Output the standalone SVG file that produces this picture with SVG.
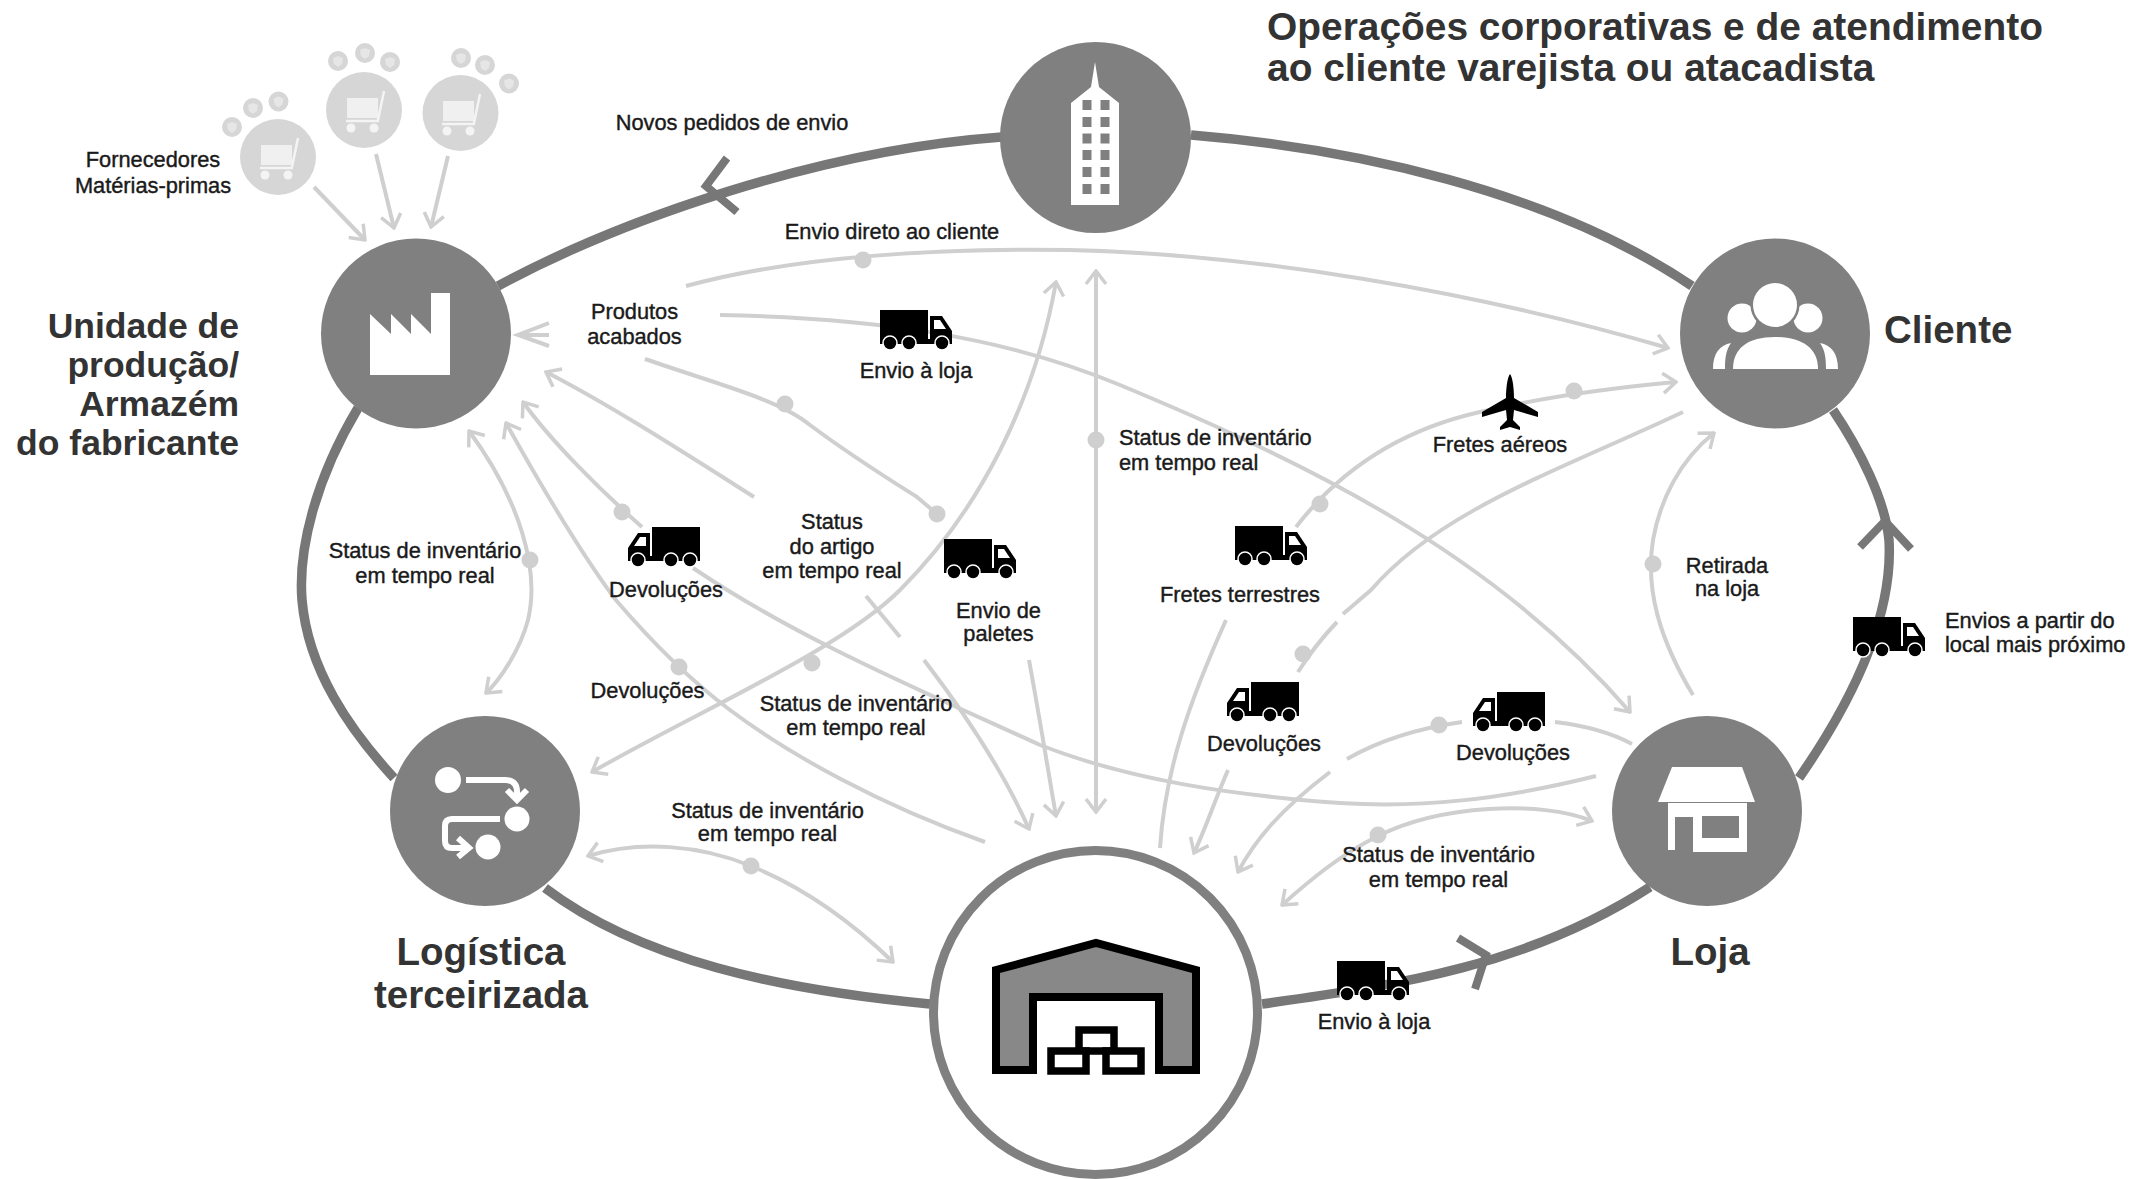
<svg xmlns="http://www.w3.org/2000/svg" width="2131" height="1179" viewBox="0 0 2131 1179">
<style>
text{font-family:"Liberation Sans",Arial,sans-serif}
.s{font-size:21.8px;fill:#1a1a1a;stroke:#1a1a1a;stroke-width:.4;text-anchor:middle}
.l{text-anchor:start}
.b{font-size:38.5px;font-weight:bold;fill:#333}
.h{font-size:38.9px}
.f{font-size:35.5px}
.e{text-anchor:end}
.m{text-anchor:middle}
.n{fill:#808080}
.ring{fill:none;stroke:#777;stroke-width:9.5}
.chev{fill:none;stroke:#777;stroke-width:8}
.t{fill:none;stroke:#cfcfcf;stroke-width:4}
.a{marker-end:url(#arr)}
.d{marker-start:url(#arr);marker-end:url(#arr)}
.dot{fill:#cfcfcf}
.ic{fill:none;stroke:#fff;stroke-width:6}
.sup{fill:#d6d6d6}
</style>
<defs>
<marker id="arr" viewBox="-16 -12 18 24" refX="0" refY="0" markerWidth="18" markerHeight="24" orient="auto-start-reverse" markerUnits="userSpaceOnUse"><path d="M-13,-10 L0,0 L-13,10" fill="none" stroke="#cfcfcf" stroke-width="3.5"/></marker>
<g id="truck"><rect x="0" y="0" width="48" height="31"/><rect x="0" y="29" width="72" height="5"/><path d="M50,6 H62 L72,21 V33 H50Z"/><path d="M54,10 H60 L66,19 H54Z" fill="#fff"/><g stroke="#fff" stroke-width="1.5"><circle cx="10" cy="33" r="7"/><circle cx="29" cy="33" r="7"/><circle cx="62" cy="33" r="7"/></g></g>
<g id="cart"><rect x="-17" y="-12" width="31" height="20" fill="#f0f0f0"/><path d="M14,10 L20,-19 M-18,11 H15" fill="none" stroke="#f4f4f4" stroke-width="2.5"/><circle cx="-13" cy="18" r="4.5" fill="#f4f4f4"/><circle cx="10" cy="18" r="4.5" fill="#f4f4f4"/></g>
<g id="pod"><circle r="10" class="sup"/><path d="M-5,-3 L0,-5 L5,-3 L4,3 L0,6 L-4,3Z" fill="#e6e6e6"/></g>
</defs>

<g id="connectors">
<path class="ring" d="M1002,137 C820,150 620,220 498,286"/>
<path class="chev" d="M727,158 L706,186 L737,212"/>
<path class="ring" d="M1191,135 C1350,148 1550,190 1692,286"/>
<path class="ring" d="M1799,778 C1860,690 1893,610 1889,540 C1885,500 1860,450 1833,410"/>
<path class="chev" d="M1860,547 L1885,521 L1911,549"/>
<path class="ring" d="M358,408 C315,480 298,550 302,600 C308,670 350,730 394,778"/>
<path class="ring" d="M545,888 C640,960 780,990 930,1004"/>
<path class="ring" d="M1262,1004 C1400,985 1530,965 1650,887"/>
<path class="chev" d="M1458,938 L1486,955 L1475,989"/>

<path class="t a" d="M314,187 L365,240"/>
<path class="t a" d="M376,154 L394,228"/>
<path class="t a" d="M448,156 L431,227"/>
<path class="t a" d="M686,286 C800,255 950,248 1070,250 C1250,254 1470,290 1668,348"/>
<path class="t a" d="M720,315 C870,318 1000,335 1120,385 C1300,460 1490,550 1630,712"/>
<path class="t" d="M549,323 L518,335 L549,346 M518,335 H549"/>
<path class="t" d="M645,359 C720,385 780,400 810,425 C850,455 890,480 917,497 L937,514"/>
<path class="t a" d="M754,497 C680,450 610,405 546,372"/>
<path class="t" d="M866,596 L900,637"/>
<path class="t a" d="M924,660 C970,720 1005,775 1029,829"/>
<path class="t a" d="M1029,660 C1040,720 1048,770 1056,816"/>
<path class="t d" d="M592,772 C700,710 840,650 900,590 C980,510 1035,400 1056,282"/>
<path class="t a" d="M642,527 C600,490 550,440 523,402"/>
<path class="t" d="M1596,776 C1500,800 1420,808 1340,803 C1230,795 1130,780 1040,745 C920,690 800,640 693,568"/>
<path class="t a" d="M985,842 C880,805 790,755 730,710 C690,680 650,640 615,599 C575,545 535,475 506,423"/>
<path class="t d" d="M469,431 C520,500 540,570 528,620 C520,650 500,680 486,693"/>
<path class="t d" d="M1096,271 V812"/>
<path class="t a" d="M1296,527 C1340,470 1400,430 1480,412 C1540,398 1610,388 1676,382"/>
<path class="t" d="M1683,412 C1560,470 1440,510 1371,590 L1343,614"/>
<path class="t" d="M1337,622 Q1315,645 1298,672"/>
<path class="t" d="M1226,620 C1190,700 1165,770 1160,848"/>
<path class="t a" d="M1228,770 C1215,800 1205,830 1194,853"/>
<path class="t" d="M1632,744 C1610,732 1580,725 1555,722"/>
<path class="t" d="M1462,722 C1420,728 1380,740 1347,759"/>
<path class="t a" d="M1330,772 C1280,810 1255,840 1238,872"/>
<path class="t d" d="M1592,821 C1540,800 1440,805 1378,836 C1340,855 1310,880 1282,905"/>
<path class="t a" d="M1693,695 C1660,640 1645,590 1653,540 C1660,500 1680,460 1714,433"/>
<path class="t d" d="M588,856 C640,840 700,845 751,866 C810,890 860,930 893,962"/>

<g class="dot">
<circle cx="863" cy="260" r="8.5"/><circle cx="785" cy="404" r="8.5"/><circle cx="937" cy="514" r="8.5"/>
<circle cx="622" cy="512" r="8.5"/><circle cx="530" cy="560" r="8.5"/><circle cx="679" cy="667" r="8.5"/>
<circle cx="812" cy="663" r="8.5"/><circle cx="751" cy="866" r="8.5"/><circle cx="1096" cy="440" r="8.5"/>
<circle cx="1574" cy="391" r="8.5"/><circle cx="1320" cy="504" r="8.5"/><circle cx="1303" cy="654" r="8.5"/>
<circle cx="1439" cy="725" r="8.5"/><circle cx="1378" cy="835" r="8.5"/><circle cx="1653" cy="564" r="8.5"/>
</g>
</g>

<g id="suppliers">
<circle cx="278" cy="157" r="38" class="sup"/><use href="#cart" x="278" y="157"/>
<circle cx="364" cy="110" r="38" class="sup"/><use href="#cart" x="364" y="110"/>
<circle cx="460.5" cy="113" r="38" class="sup"/><use href="#cart" x="460" y="113"/>
<use href="#pod" x="232" y="127"/><use href="#pod" x="253" y="108"/><use href="#pod" x="278.5" y="101.5"/>
<use href="#pod" x="338" y="61"/><use href="#pod" x="365" y="53"/><use href="#pod" x="390" y="62"/>
<use href="#pod" x="461" y="58"/><use href="#pod" x="485" y="65"/><use href="#pod" x="509" y="83.5"/>
<text class="s" x="153" y="167">Fornecedores</text>
<text class="s" x="153" y="193">Matérias-primas</text>
</g>

<g id="node-factory">
<circle cx="416" cy="333.5" r="95" class="n"/>
<path d="M370,375 V314 L391,334 V314 L411,334 V314 L431,334 V293 H450 V375Z" fill="#fff"/>
<g class="b e f"><text x="239" y="338">Unidade de</text><text x="239" y="377">produção/</text><text x="239" y="416">Armazém</text><text x="239" y="455">do fabricante</text></g>
</g>

<g id="node-hq">
<circle cx="1095.5" cy="137.5" r="95.5" class="n"/>
<path d="M1071,205 V103 L1091,87 L1095,62 L1099,87 L1119,103 V205Z" fill="#fff"/>
<g fill="#808080">
<rect x="1082.5" y="100" width="9" height="10"/><rect x="1100.5" y="100" width="9" height="10"/>
<rect x="1082.5" y="117" width="9" height="10"/><rect x="1100.5" y="117" width="9" height="10"/>
<rect x="1082.5" y="133.5" width="9" height="10"/><rect x="1100.5" y="133.5" width="9" height="10"/>
<rect x="1082.5" y="150" width="9" height="10"/><rect x="1100.5" y="150" width="9" height="10"/>
<rect x="1082.5" y="167" width="9" height="10"/><rect x="1100.5" y="167" width="9" height="10"/>
<rect x="1082.5" y="184" width="9" height="10"/><rect x="1100.5" y="184" width="9" height="10"/>
</g>
<text class="b h" x="1267" y="40">Operações corporativas e de atendimento</text>
<text class="b h" x="1267" y="81">ao cliente varejista ou atacadista</text>
</g>

<g id="node-client">
<circle cx="1775" cy="333.5" r="95" class="n"/>
<circle cx="1742" cy="318" r="14.5" fill="#fff"/>
<circle cx="1808" cy="318" r="14.5" fill="#fff"/>
<path d="M1713,369 C1713,353 1720,345 1731,343 C1726,350 1725,358 1725,369Z M1838,369 C1838,353 1831,345 1820,343 C1825,350 1826,358 1826,369Z" fill="#fff"/>
<path d="M1733,369 C1733,348 1748,337 1775,337 C1802,337 1818,348 1818,369Z" fill="#fff"/>
<circle cx="1775" cy="305" r="22" fill="#fff" stroke="#808080" stroke-width="5" paint-order="stroke"/>
<text class="b" x="1884" y="342.5">Cliente</text>
</g>

<g id="node-logistics">
<circle cx="485" cy="811" r="95" class="n"/>
<g fill="#fff"><circle cx="448" cy="780" r="13"/><circle cx="517" cy="819" r="12.5"/><circle cx="488" cy="847" r="12.5"/></g>
<path class="ic" d="M466,780 H505 Q517,780 517,792 V798 M507,790 L517,800 L527,790 M500,819 H452 Q445,819 445,826 V841 Q445,848 452,848 H467 M458,838 L469,848 L458,857"/>
<text class="b m" x="481" y="964.5">Logística</text>
<text class="b m" x="481" y="1008">terceirizada</text>
</g>

<g id="node-store">
<circle cx="1707" cy="811" r="95" class="n"/>
<path d="M1672,767 H1742 L1755,802 H1658Z" fill="#fff"/>
<path d="M1668,803 H1747 V852 H1693 V817 H1675 V850 H1668Z" fill="#fff"/>
<rect x="1702" y="816" width="37" height="22" fill="#808080"/>
<text class="b m" x="1710" y="964.5">Loja</text>
</g>

<g id="node-warehouse">
<circle cx="1095.5" cy="1012.5" r="162" fill="#fff" stroke="#808080" stroke-width="9"/>
<path d="M996,1070 V970 L1096,943 L1196,970 V1070 H1159 V997 H1033 V1070Z" fill="#888" stroke="#000" stroke-width="8"/>
<g fill="#fff" stroke="#000" stroke-width="7.5"><rect x="1079" y="1030" width="35" height="21"/><rect x="1051" y="1051" width="35" height="20"/><rect x="1106" y="1051" width="35" height="20"/></g>
</g>

<g id="vehicles">
<use href="#truck" transform="translate(880,310)"/>
<use href="#truck" transform="translate(700,527) scale(-1,1)"/>
<use href="#truck" transform="translate(944,539)"/>
<use href="#truck" transform="translate(1235,526)"/>
<use href="#truck" transform="translate(1299,682) scale(-1,1)"/>
<use href="#truck" transform="translate(1545,692) scale(-1,1)"/>
<use href="#truck" transform="translate(1853,617)"/>
<use href="#truck" transform="translate(1337,961)"/>
<path d="M1510,374 C1513,378 1514,390 1514,398 L1538,412 V417 L1514,410 L1513,420 L1520,427 V430 L1510,427 L1500,430 V427 L1507,420 L1506,410 L1482,417 V412 L1506,398 C1506,390 1507,378 1510,374Z"/>
</g>

<g id="labels">
<text class="s" x="732" y="130">Novos pedidos de envio</text>
<text class="s" x="892" y="239">Envio direto ao cliente</text>
<text class="s" x="634.5" y="319">Produtos</text><text class="s" x="634.5" y="343.5">acabados</text>
<text class="s" x="916" y="378">Envio à loja</text>
<text class="s" x="425" y="558">Status de inventário</text><text class="s" x="425" y="583">em tempo real</text>
<text class="s" x="666" y="597">Devoluções</text>
<text class="s" x="832" y="529">Status</text><text class="s" x="832" y="554">do artigo</text><text class="s" x="832" y="578">em tempo real</text>
<text class="s" x="998.5" y="618">Envio de</text><text class="s" x="998.5" y="641">paletes</text>
<text class="s" x="647.5" y="698">Devoluções</text>
<text class="s" x="856" y="711">Status de inventário</text><text class="s" x="856" y="735">em tempo real</text>
<text class="s" x="767.5" y="818">Status de inventário</text><text class="s" x="767.5" y="841">em tempo real</text>
<text class="s l" x="1119" y="445">Status de inventário</text><text class="s l" x="1119" y="470">em tempo real</text>
<text class="s" x="1500" y="451.5">Fretes aéreos</text>
<text class="s" x="1240" y="602">Fretes terrestres</text>
<text class="s" x="1727" y="572.5">Retirada</text><text class="s" x="1727" y="596">na loja</text>
<text class="s l" x="1945" y="627.5">Envios a partir do</text><text class="s l" x="1945" y="652">local mais próximo</text>
<text class="s" x="1264" y="750.5">Devoluções</text>
<text class="s" x="1513" y="760">Devoluções</text>
<text class="s" x="1438.5" y="861.5">Status de inventário</text><text class="s" x="1438.5" y="887">em tempo real</text>
<text class="s" x="1374" y="1029">Envio à loja</text>
</g>
</svg>
